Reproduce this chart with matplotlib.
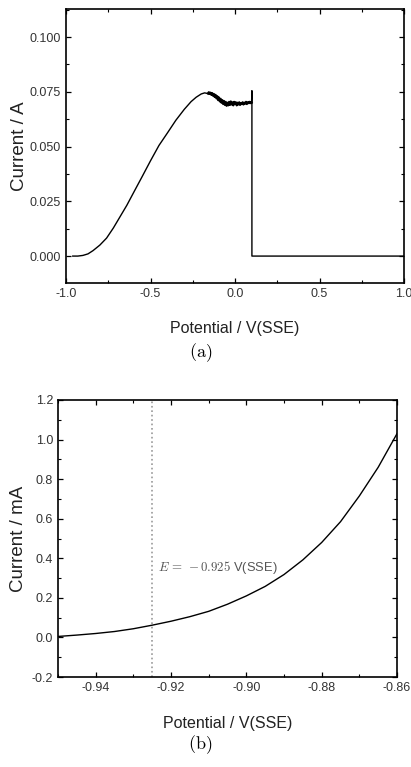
import matplotlib
matplotlib.use('Agg')
import matplotlib.pyplot as plt
from matplotlib.ticker import MultipleLocator

plt.rcParams['font.family'] = ['Liberation Sans', 'DejaVu Sans']
plt.rcParams['mathtext.fontset'] = 'cm'

# (a) potential sweep, current in A
pot_a = [-0.96, -0.93, -0.90, -0.87, -0.84, -0.80, -0.76, -0.72, -0.68, -0.64,
         -0.60, -0.55, -0.50, -0.45, -0.40, -0.35, -0.30, -0.26, -0.23, -0.20,
         -0.18, -0.16]
cur_a = [0.0000, 0.0000, 0.0003, 0.0010, 0.0025, 0.0050, 0.0082, 0.0128, 0.0180, 0.0232,
         0.0290, 0.0362, 0.0435, 0.0505, 0.0562, 0.0620, 0.0670, 0.0705, 0.0725, 0.0740,
         0.0745, 0.0742]
# noisy plateau before the cut-off
pot_noise = [-0.16, -0.155, -0.15, -0.145, -0.14, -0.135, -0.13, -0.125, -0.12, -0.115,
             -0.11, -0.105, -0.10, -0.095, -0.09, -0.085, -0.08, -0.075, -0.07, -0.065,
             -0.06, -0.055, -0.05, -0.045, -0.04, -0.035, -0.03, -0.025, -0.02, -0.015,
             -0.01, -0.005, 0.00, 0.005, 0.01, 0.015, 0.02, 0.025, 0.03, 0.035,
             0.04, 0.045, 0.05, 0.055, 0.06, 0.065, 0.07, 0.075, 0.08, 0.085,
             0.09, 0.095, 0.098]
cur_noise = [0.0742, 0.0748, 0.0740, 0.0746, 0.0736, 0.0744, 0.0732, 0.0740, 0.0726, 0.0736,
             0.0720, 0.0730, 0.0712, 0.0724, 0.0706, 0.0718, 0.0700, 0.0712, 0.0694, 0.0708,
             0.0690, 0.0704, 0.0686, 0.0700, 0.0688, 0.0704, 0.0690, 0.0706, 0.0692, 0.0702,
             0.0688, 0.0704, 0.0694, 0.0702, 0.0688, 0.0700, 0.0692, 0.0702, 0.0690, 0.0698,
             0.0694, 0.0702, 0.0692, 0.0700, 0.0696, 0.0704, 0.0694, 0.0702, 0.0698, 0.0704,
             0.0698, 0.0703, 0.0700]
pot_cut = [0.098, 0.10, 0.10, 1.0]
cur_cut = [0.0700, 0.0755, 0.0000, 0.0000]

# (b) zoom near onset, current in mA
pot_b = [-0.95, -0.945, -0.94, -0.935, -0.93, -0.925, -0.92, -0.915, -0.91, -0.905,
         -0.90, -0.895, -0.89, -0.885, -0.88, -0.875, -0.87, -0.865, -0.86]
cur_b = [0.005, 0.012, 0.020, 0.030, 0.044, 0.062, 0.082, 0.105, 0.132, 0.168,
         0.210, 0.258, 0.318, 0.392, 0.480, 0.585, 0.715, 0.860, 1.030]
e_onset = -0.925

fig = plt.figure(figsize=(4.11, 7.67), dpi=100)

def style_axes(ax):
    for s in ax.spines.values():
        s.set_linewidth(1.2)
    ax.tick_params(which='both', direction='in', top=True, right=True,
                   labelsize=9, labelcolor='#333333')
    ax.tick_params(which='major', length=3.5, width=0.9)
    ax.tick_params(which='minor', length=2, width=0.8)

ax1 = fig.add_axes([0.1606, 0.631, 0.8224, 0.3573])
ax1.plot(pot_a, cur_a, color='black', lw=1.0)
ax1.plot(pot_noise, cur_noise, color='black', lw=1.6)
ax1.plot(pot_cut, cur_cut, color='black', lw=1.0)
ax1.set_xlim(-1.0, 1.0)
ax1.set_ylim(-0.0123, 0.1128)
ax1.xaxis.set_major_locator(MultipleLocator(0.5))
ax1.xaxis.set_minor_locator(MultipleLocator(0.25))
ax1.yaxis.set_major_locator(MultipleLocator(0.025))
ax1.yaxis.set_minor_locator(MultipleLocator(0.0125))
ax1.xaxis.set_major_formatter(lambda v, p: f'{v:.1f}')
ax1.yaxis.set_major_formatter(lambda v, p: f'{v:.3f}')
style_axes(ax1)
ax1.set_xlabel('Potential / V(SSE)', fontsize=11.5, color='#222222', labelpad=15)
ax1.set_ylabel('Current / A', fontsize=13.5, color='#222222', labelpad=1.5)
fig.text(0.487, 1 - 353 / 767, r'$\mathrm{(a)}$', fontsize=13, ha='center', va='center')

ax2 = fig.add_axes([0.1411, 0.1173, 0.8249, 0.3612])
ax2.plot(pot_b, cur_b, color='black', lw=1.0)
ax2.axvline(e_onset, color='#999999', lw=1.2, ls=':')
ax2.text(-0.9235, 0.354, r'$E\,=\,-0.925$ V(SSE)', fontsize=9.3, color='#555555',
         ha='left', va='center')
ax2.set_xlim(-0.95, -0.86)
ax2.set_ylim(-0.2, 1.2)
ax2.xaxis.set_major_locator(MultipleLocator(0.02))
ax2.xaxis.set_minor_locator(MultipleLocator(0.01))
ax2.yaxis.set_major_locator(MultipleLocator(0.2))
ax2.yaxis.set_minor_locator(MultipleLocator(0.1))
ax2.xaxis.set_major_formatter(lambda v, p: f'{v:.2f}')
ax2.yaxis.set_major_formatter(lambda v, p: f'{v:.1f}')
style_axes(ax2)
ax2.set_xlabel('Potential / V(SSE)', fontsize=11.5, color='#222222', labelpad=16)
ax2.set_ylabel('Current / mA', fontsize=13.5, color='#222222', labelpad=3.5)
fig.text(0.487, 1 - 745 / 767, r'$\mathrm{(b)}$', fontsize=13, ha='center', va='center')

fig.savefig('out.png', dpi=100)
